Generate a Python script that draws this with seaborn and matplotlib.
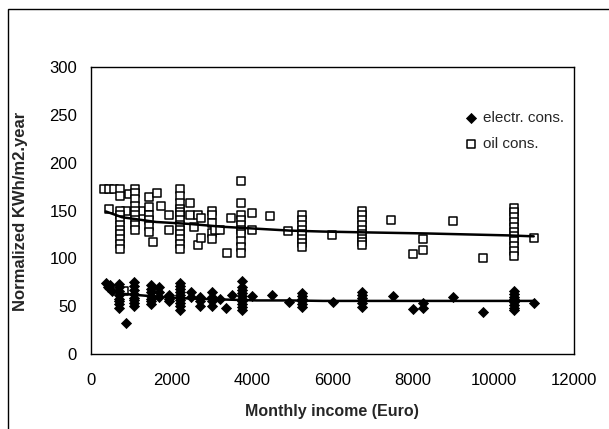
import matplotlib
matplotlib.use("Agg")
import matplotlib.pyplot as plt
import seaborn as sns
import numpy as np
import pandas as pd
from matplotlib.patches import Rectangle

# oil consumption points (income, kWh/m2.year)
oil_x = ([325, 450, 575, 450, 870, 950, 1250]
         + [720] * 11
         + [1100] * 9
         + [1450] * 6 + [1550, 1650, 1750, 1950, 1950]
         + [2220] * 13
         + [2450, 2470, 2570, 2650, 2650, 2740, 2740]
         + [3000] * 5 + [3070, 3200, 3370, 3470]
         + [3720] * 10
         + [3990, 3990, 4460, 4890]
         + [5240] * 8
         + [5990]
         + [6730] * 9
         + [7450, 8000, 8250, 8250, 9000, 9750]
         + [10500] * 11
         + [11000, 820])
oil_y = ([173, 173, 173, 152, 150, 167, 149]
         + [173, 165, 150, 145, 140, 135, 130, 125, 120, 115, 110]
         + [173, 168, 162, 155, 150, 145, 140, 135, 130]
         + [164, 154, 145, 140, 134, 128, 117, 168, 155, 145, 130]
         + [173, 165, 158, 152, 148, 145, 140, 135, 130, 125, 120, 115, 110]
         + [145, 158, 133, 145, 114, 142, 121]
         + [150, 145, 137, 127, 120, 130, 130, 106, 142]
         + [181, 158, 145, 140, 135, 130, 125, 118, 112, 106]
         + [147, 130, 144, 129]
         + [145, 140, 135, 130, 125, 120, 116, 112]
         + [124]
         + [150, 145, 140, 135, 130, 125, 120, 117, 114]
         + [140, 105, 120, 109, 139, 100]
         + [153, 148, 143, 138, 133, 128, 123, 118, 113, 108, 102]
         + [121, 66])

# electricity consumption points
elec_x = ([370, 420, 480, 520]
          + [700] * 8 + [870]
          + [1070] * 8
          + [1500] * 7
          + [1700] * 3 + [1950] * 3
          + [2220] * 10
          + [2490, 2490] + [2700] * 3 + [3000] * 4
          + [3200, 3350, 3500]
          + [3740] * 10
          + [3990, 4490, 4910]
          + [5240] * 6
          + [6010]
          + [6730] * 6
          + [7500, 7990, 8250, 8250, 9000, 9750]
          + [10500] * 8
          + [11000])
elec_y = ([74, 70, 72, 66]
          + [73, 70, 66, 62, 58, 55, 52, 48] + [32]
          + [75, 71, 67, 63, 59, 56, 53, 50]
          + [72, 68, 65, 61, 58, 55, 52]
          + [70, 65, 60] + [62, 58, 55]
          + [74, 71, 68, 65, 62, 59, 56, 53, 50, 46]
          + [65, 60] + [60, 55, 50] + [65, 60, 55, 50]
          + [58, 48, 62]
          + [76, 70, 67, 64, 61, 58, 55, 52, 49, 46]
          + [61, 62, 54]
          + [64, 61, 58, 55, 52, 49]
          + [54]
          + [65, 62, 59, 56, 53, 49]
          + [61, 47, 53, 48, 60, 44]
          + [66, 63, 60, 57, 54, 51, 48, 46]
          + [53])

# trend lines
trend_x = [370, 770, 1620, 2440, 3270, 4110, 4940, 5760, 7000, 8350, 10350, 11000]
oil_trend = [149, 143, 138, 136, 133, 131, 129, 128, 127, 126, 124, 123]
elec_trend = [68, 63, 60, 58, 57, 56, 56, 55.5, 55.5, 55.5, 55.5, 55.5]

sns.set_style("white")
plt.rcParams['font.family'] = ['Liberation Sans', 'DejaVu Sans']
plt.rcParams['xtick.direction'] = 'in'
plt.rcParams['ytick.direction'] = 'in'

fig = plt.figure(figsize=(6.09, 4.29), dpi=100)
ax = fig.add_axes([0.1494, 0.1748, 0.7931, 0.669])

sns.lineplot(x=trend_x, y=oil_trend, color='black', lw=1.8, ax=ax, zorder=3)
sns.lineplot(x=trend_x, y=elec_trend, color='black', lw=1.8, ax=ax, zorder=3)
sns.scatterplot(x=elec_x, y=elec_y, marker='D', s=26, color='black',
                edgecolor='black', linewidth=0.6, label='electr. cons.', ax=ax, zorder=4)
sns.scatterplot(x=oil_x, y=oil_y, marker='s', s=27, facecolor='white',
                edgecolor='black', linewidth=1.1, label='oil cons.', ax=ax, zorder=2)

ax.set_xlim(0, 12000)
ax.set_ylim(0, 300)
ax.set_xticks(range(0, 12001, 2000))
ax.set_yticks(range(0, 301, 50))
ax.tick_params(axis='both', labelsize=12, length=4, width=0.8, colors='black')
ax.tick_params(axis='x', pad=14)
ax.tick_params(axis='y', pad=10)
for sp in ax.spines.values():
    sp.set_color('black')
    sp.set_linewidth(1.0)

ax.set_xlabel('Monthly income (Euro)', fontsize=11.5, fontweight='bold')
ax.xaxis.set_label_coords(0.499, -0.175)
ax.set_ylabel('Normalized KWh/m2.year', fontsize=12, fontweight='bold')
ax.yaxis.set_label_coords(-0.130, 0.498)

ax.legend(loc='upper left', bbox_to_anchor=(0.77, 0.846), frameon=False,
          fontsize=11, handletextpad=0.3, handlelength=1.0,
          borderaxespad=0, borderpad=0, labelspacing=0.8)

fig.patches.append(Rectangle((8 / 609, -0.1), 1.2, 1.1 - 9 / 429,
                             transform=fig.transFigure, fill=False,
                             edgecolor='black', linewidth=1.0))

fig.savefig('out.png', dpi=100)
